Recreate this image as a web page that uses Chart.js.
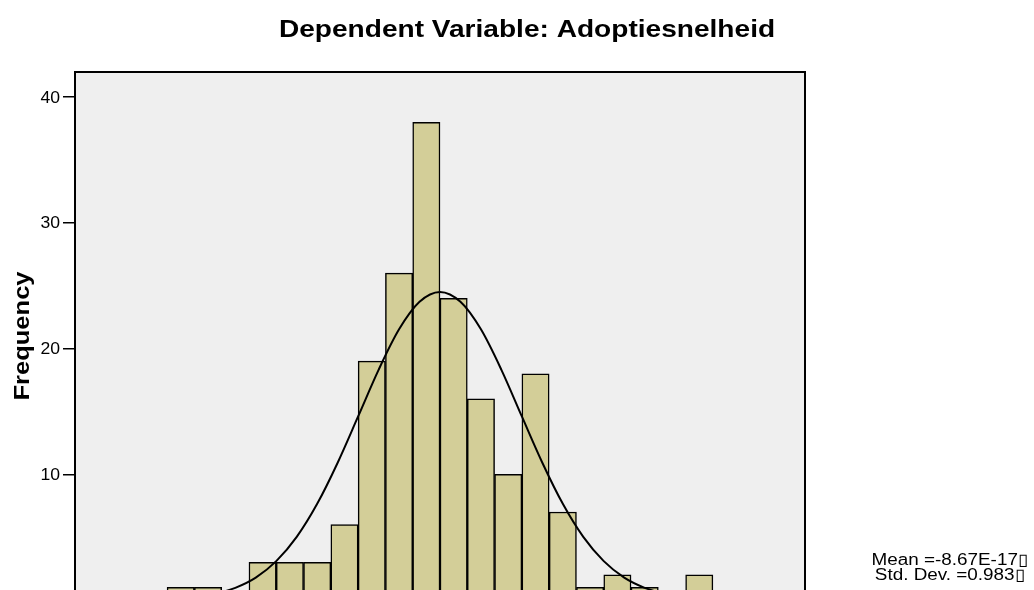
<!DOCTYPE html>
<html>
<head>
<meta charset="utf-8">
<script src="https://cdn.jsdelivr.net/npm/chart.js@4.4.1/dist/chart.umd.min.js"></script>
<style>
  html, body { margin: 0; padding: 0; background: #fff; overflow: hidden; }
  #wrap { width: 1034px; height: 590px; overflow: hidden; }
</style>
</head>
<body>
<div id="wrap"><canvas id="chart" width="1034" height="640"></canvas></div>
<script>
// histogram bins (bin width 1/3, values are bin centres)
const binCenters = [-3.1667, -2.8333, -2.5, -2.1667, -1.8333, -1.5, -1.1667, -0.8333, -0.5, -0.1667,
                    0.1667, 0.5, 0.8333, 1.1667, 1.5, 1.8333, 2.1667, 2.5, 2.8333, 3.1667];
const frequencies = [1, 1, 0, 3, 3, 3, 6, 19, 26, 38, 24, 16, 10, 18, 7, 1, 2, 1, 0, 2];

// normal curve
const curveX = [-4.5, -4.25, -4, -3.75, -3.5, -3.25, -3, -2.75, -2.5, -2.25, -2, -1.75, -1.5, -1.25, -1, -0.75, -0.5, -0.25,
                0, 0.25, 0.5, 0.75, 1, 1.25, 1.5, 1.75, 2, 2.25, 2.5, 2.75, 3, 3.25, 3.5, 3.75, 4, 4.25, 4.5];
const curveY = [0, 0, 0.01, 0.02, 0.04, 0.10, 0.23, 0.49, 0.97, 1.78, 3.09, 5.02, 7.65, 10.92, 14.60, 18.31, 21.53, 23.72,
                24.5, 23.72, 21.53, 18.31, 14.60, 10.92, 7.65, 5.02, 3.09, 1.78, 0.97, 0.49, 0.23, 0.10, 0.04, 0.02, 0.01, 0, 0];

const yTicks = [0, 10, 20, 30, 40];
const yTickLabels = ['', '10', '20', '30', '40'];
const title = 'Dependent Variable: Adoptiesnelheid';
const yTitle = 'Frequency';
const statLines = ['Mean =-8.67E-17\u25AF', 'Std. Dev. =0.983\u25AF'];

const FONT = '"Liberation Sans", Arial, Helvetica, sans-serif';

// the text in this chart is set in a wide grotesque, so glyphs get stretched sideways
function wideText(ctx, str, x, y, font, stretch, angle) {
  ctx.save();
  ctx.translate(x, y);
  if (angle) ctx.rotate(angle);
  ctx.scale(stretch, 1);
  ctx.font = font;
  ctx.fillText(str, 0, 0);
  ctx.restore();
}

// grey plot background, black frame, titles, tick labels and the stats box
const frame = {
  id: 'frame',
  beforeDraw(chart) {
    const { ctx, chartArea: a } = chart;
    ctx.save();
    ctx.fillStyle = '#efefef';
    ctx.fillRect(a.left, a.top, a.right - a.left, a.bottom - a.top);
    ctx.restore();
  },
  afterDatasetsDraw(chart) {
    const { ctx, chartArea: a } = chart;
    ctx.save();
    ctx.strokeStyle = '#000';
    ctx.lineWidth = 2;
    ctx.strokeRect(a.left, a.top, a.right - a.left, a.bottom - a.top);
    ctx.restore();
  },
  afterDraw(chart) {
    const ctx = chart.ctx;
    const y = chart.scales.y;
    ctx.save();
    ctx.fillStyle = '#000';
    ctx.textBaseline = 'alphabetic';
    ctx.textAlign = 'center';
    wideText(ctx, title, 527, 37, 'bold 24px ' + FONT, 1.17);
    wideText(ctx, statLines[0], 950, 565, '16px ' + FONT, 1.18);
    wideText(ctx, statLines[1], 950, 580, '16px ' + FONT, 1.18);
    wideText(ctx, yTitle, 29, 336, 'bold 22px ' + FONT, 1.16, -Math.PI / 2);
    ctx.textAlign = 'right';
    ctx.textBaseline = 'middle';
    yTicks.forEach((v, i) => {
      wideText(ctx, yTickLabels[i], 60, y.getPixelForValue(v) + 1, '16px ' + FONT, 1.1);
    });
    ctx.restore();
  }
};

new Chart(document.getElementById('chart'), {
  data: {
    datasets: [{
      type: 'line',
      data: curveX.map((x, i) => ({ x: x, y: curveY[i] })),
      borderColor: '#000',
      borderWidth: 2,
      pointRadius: 0,
      cubicInterpolationMode: 'monotone',
      order: 0
    }, {
      type: 'bar',
      data: binCenters.map((x, i) => ({ x: x, y: frequencies[i] })),
      backgroundColor: '#d3ce98',
      borderColor: '#000',
      borderWidth: 1.5,
      borderSkipped: false,
      barPercentage: 1,
      categoryPercentage: 1,
      order: 1
    }]
  },
  options: {
    responsive: false,
    animation: false,
    devicePixelRatio: 1,
    layout: { autoPadding: false, padding: { top: 72, right: 229, bottom: 40, left: 0 } },
    plugins: { legend: { display: false }, tooltip: { enabled: false } },
    scales: {
      x: {
        type: 'linear',
        min: -4.458,
        max: 4.458,
        offset: false,
        display: false
      },
      y: {
        min: 0,
        max: 42,
        afterBuildTicks(scale) { scale.ticks = yTicks.map(v => ({ value: v })); },
        afterFit(scale) { scale.width = 75; scale.paddingTop = 0; scale.paddingBottom = 0; },
        border: { display: true, color: '#000', width: 1.5 },
        grid: { drawOnChartArea: false, drawTicks: true, tickLength: 12, color: '#000', lineWidth: 1.5 },
        ticks: { display: false }
      }
    }
  },
  plugins: [frame]
});
</script>
</body>
</html>
